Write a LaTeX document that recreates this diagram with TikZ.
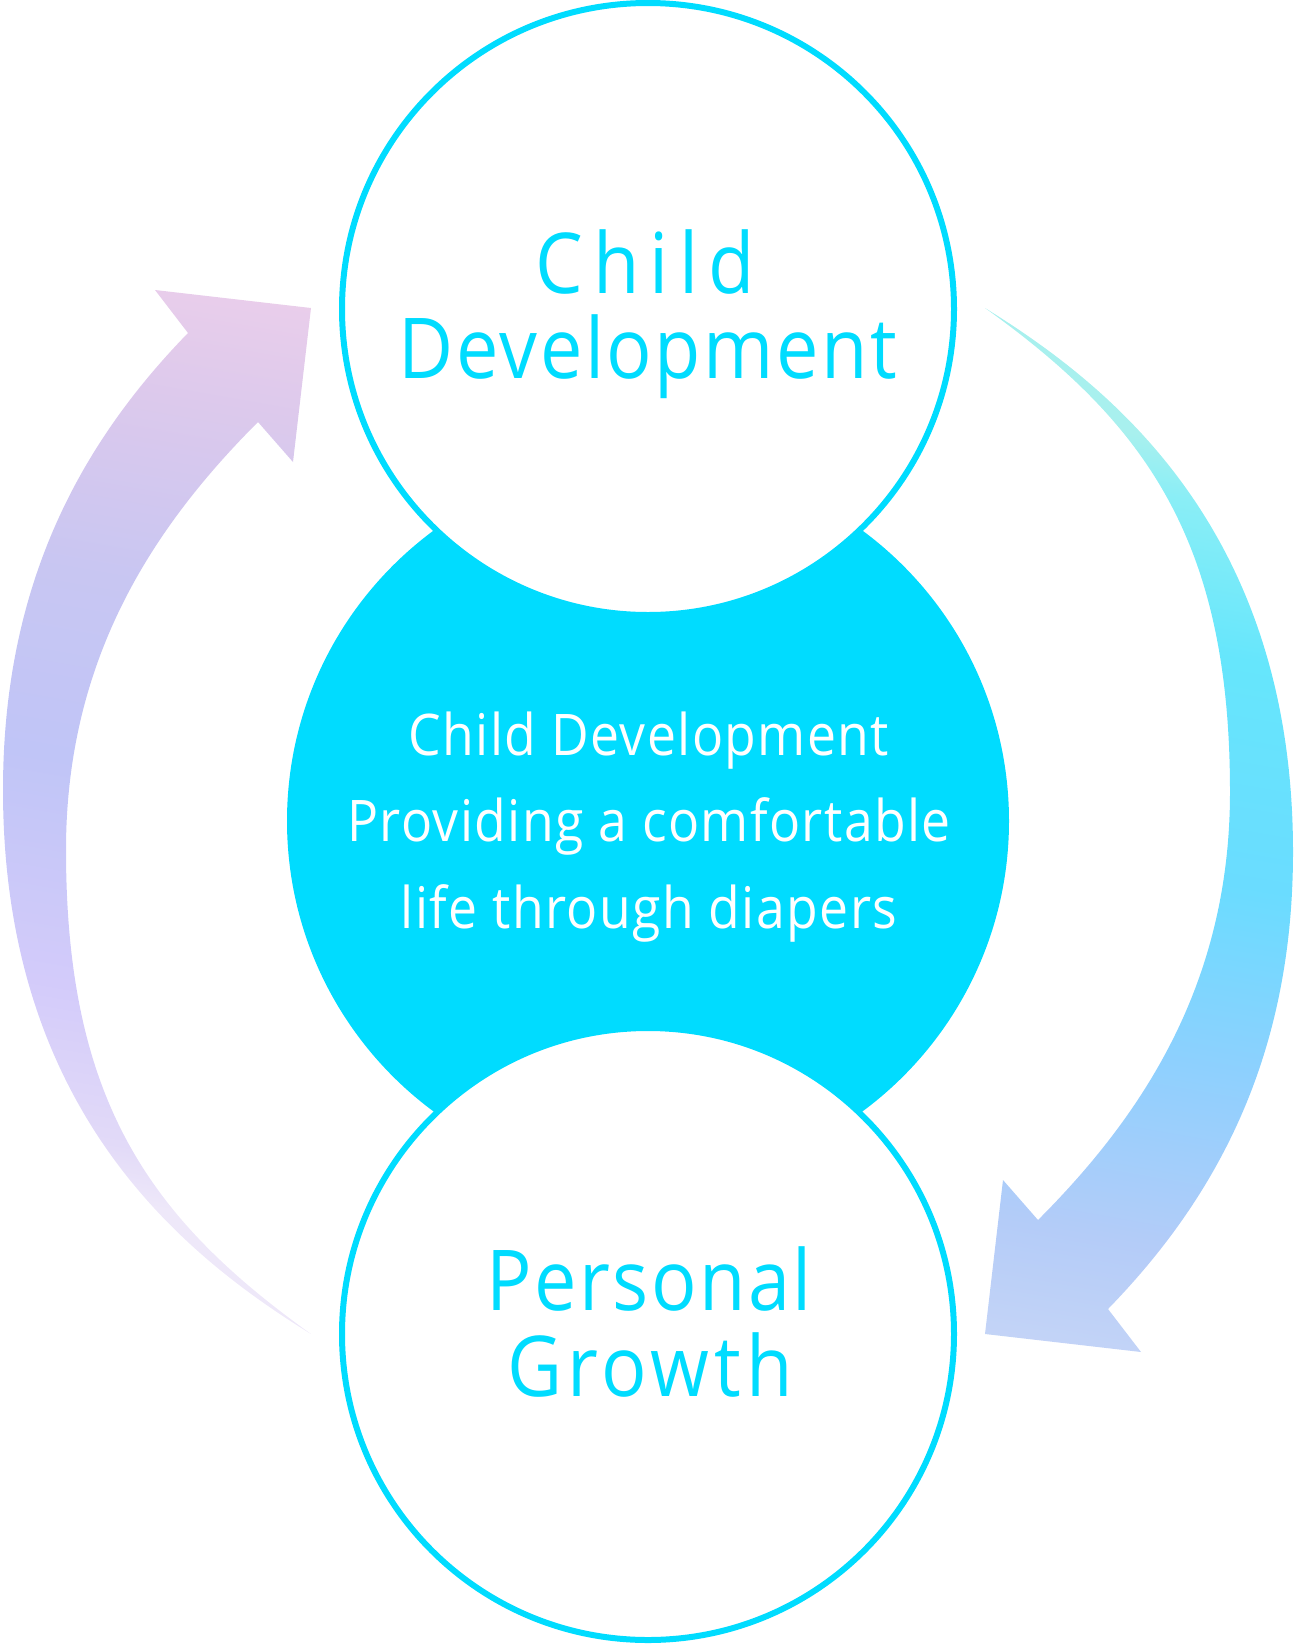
\documentclass[tikz,border=0pt]{standalone}
\usepackage{fontspec}
\setmainfont{Open Sans}
\newfontfamily\titlefont[FakeStretch=0.9]{Open Sans}
\newfontfamily\mottofont[FakeStretch=0.9, LetterSpace=2.5]{Open Sans}
\usetikzlibrary{positioning}

\definecolor{aqua}{HTML}{00DCFF}
\definecolor{lilacA}{HTML}{EEE8F9}
\definecolor{lilacB}{HTML}{E2DAF8}
\definecolor{lilacC}{HTML}{D3CBFA}
\definecolor{lilacD}{HTML}{C0C5F7}
\definecolor{lilacE}{HTML}{C8C6F2}
\definecolor{lilacF}{HTML}{DCC9EC}
\definecolor{lilacG}{HTML}{EDCFEA}
\definecolor{skyA}{HTML}{A8F0EE}
\definecolor{skyB}{HTML}{8AEEF6}
\definecolor{skyC}{HTML}{66E6FC}
\definecolor{skyD}{HTML}{6ADCFF}
\definecolor{skyE}{HTML}{8ED0FE}
\definecolor{skyF}{HTML}{B4CCF8}
\definecolor{skyG}{HTML}{C8D6F6}

\pgfdeclareverticalshading{lilacfade}{100bp}{color(0bp)=(lilacA); color(29bp)=(lilacA);
  color(32bp)=(lilacB); color(40bp)=(lilacC); color(52bp)=(lilacD); color(62bp)=(lilacE);
  color(72bp)=(lilacF); color(80bp)=(lilacG); color(100bp)=(lilacG)}
\pgfdeclareverticalshading{skyfade}{100bp}{color(0bp)=(skyA); color(29bp)=(skyA);
  color(32bp)=(skyB); color(40bp)=(skyC); color(52bp)=(skyD); color(62bp)=(skyE);
  color(72bp)=(skyF); color(80bp)=(skyG); color(100bp)=(skyG)}

% one curved arrow, tail at the bottom, head at the top left
\newcommand{\swooshpath}{(311,1334) .. controls (183,1255) and (3,1110) .. (3,790)
  .. controls (3,590) and (76,448) .. (188,333) -- (155,290) -- (311,308) -- (293,462)
  -- (258,422) .. controls (152,528) and (66,660) .. (66,850)
  .. controls (66,1100) and (149,1218) .. (311,1334) -- cycle}

\begin{document}
\begin{tikzpicture}[x=0.5pt, y=-0.5pt,
    ring/.style={circle, draw=aqua, line width=3pt, fill=white, minimum size=306pt, inner sep=0pt},
    core/.style={circle, fill=aqua, minimum size=361pt, inner sep=0pt},
    headline/.style={text=aqua, anchor=base, inner sep=0pt,
      font=\titlefont\fontsize{42pt}{42pt}\selectfont\addfontfeature{LetterSpace=#1}},
    motto/.style={text=white, anchor=base, inner sep=0pt, font=\mottofont\fontsize{28.7pt}{30pt}\selectfont}]
  \useasboundingbox (0,0) rectangle (1298,1644);

  % arrows
  \shade[shading=lilacfade, shading angle=-10] \swooshpath;
  \begin{scope}[rotate around={180:(648,821)}]
    \shade[shading=skyfade, shading angle=170] \swooshpath;
  \end{scope}

  % circles
  \node[core] (core) at (648,821) {};
  \node[ring] (child) at (648,309) {};
  \node[ring] (growth) at (648,1334) {};

  % texts
  \node[headline=12] (childA) at (645,293) {Child};
  \node[headline=3] (childB) at (648,378) {Development};
  \node[motto] (mottoA) at (649,755) {Child Development};
  \node[motto] (mottoB) at (649,841) {Providing a comfortable};
  \node[motto] (mottoC) at (649,928) {life through diapers};
  \node[headline=3] (growthA) at (649,1310) {Personal};
  \node[headline=6] (growthB) at (650,1396) {Growth};
\end{tikzpicture}
\end{document}
